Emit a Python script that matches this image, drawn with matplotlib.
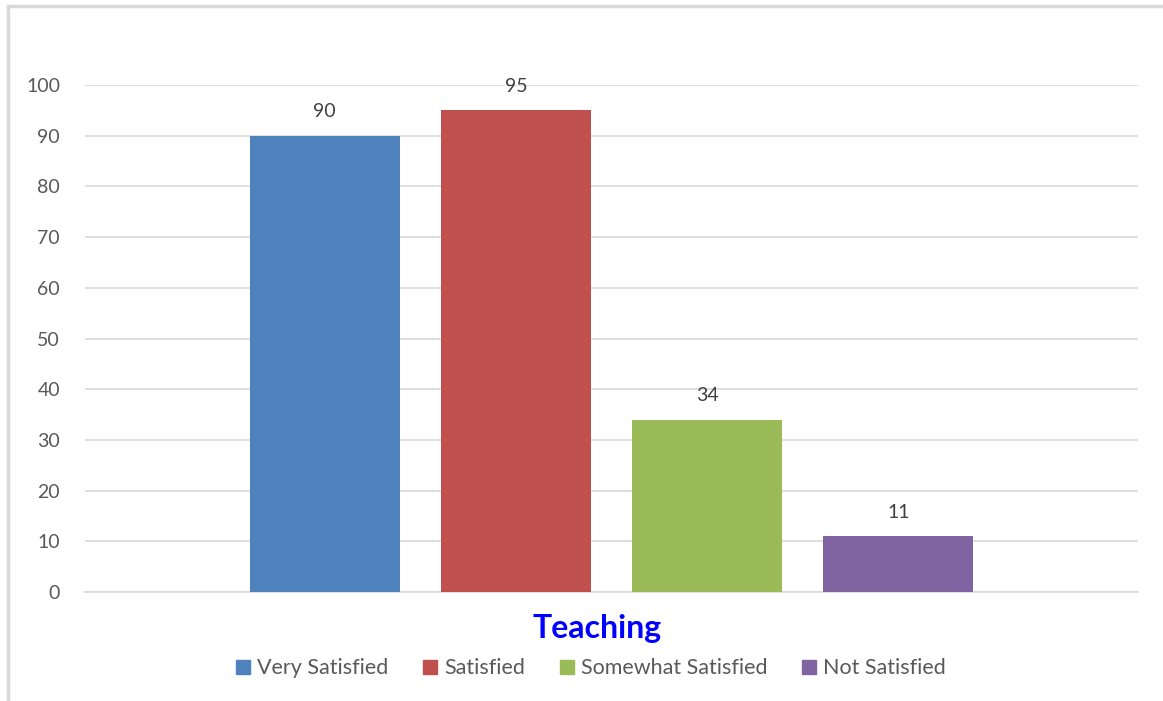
import matplotlib.pyplot as plt
from matplotlib.lines import Line2D

# data
series = ["Very Satisfied", "Satisfied", "Somewhat Satisfied", "Not Satisfied"]
values = [90, 95, 34, 11]
colors = ["#4F81BD", "#C0504D", "#9BBB59", "#8064A2"]
yticks = [0, 10, 20, 30, 40, 50, 60, 70, 80, 90, 100]

plt.rcParams['font.family'] = ['Lato', 'DejaVu Sans']

fig = plt.figure(figsize=(11.63, 7.01), dpi=100)
ax = fig.add_axes([0.0731, 0.1555, 0.9054, 0.7232])

bar_width = 0.784
for i, (name, v, c) in enumerate(zip(series, values, colors)):
    ax.bar(i, v, bar_width, color=c, label=name, zorder=3)
    ax.annotate(str(v), (i, v), xytext=(0, 11), textcoords="offset points",
                ha="center", va="bottom", fontsize=14, color="#404040")

ax.set_xlim(-1.252, 4.252)
ax.set_ylim(0, 100)
ax.set_yticks(yticks)
ax.set_xticks([])
ax.grid(axis="y", color="#D9D9D9", linewidth=1.2, zorder=0)
for s in ["top", "right", "left"]:
    ax.spines[s].set_visible(False)
ax.spines["bottom"].set_color("#D9D9D9")
ax.spines["bottom"].set_linewidth(1.2)
ax.tick_params(axis="y", length=0, pad=18, labelsize=14, labelcolor="#595959")

ax.set_xlabel("Teaching", fontsize=23, fontweight="bold", color="#0000FF", labelpad=16)
ax.xaxis.label.set_x(0.486)

handles = [Line2D([], [], marker="s", linestyle="none", markersize=10,
                  markerfacecolor=c, markeredgecolor=c) for c in colors]
leg = fig.legend(handles, series, loc="center", bbox_to_anchor=(0.507, 0.047), ncol=4,
                 frameon=False, fontsize=15.5, handletextpad=0.2, columnspacing=1.5,
                 handlelength=0.9)
for t in leg.get_texts():
    t.set_color("#595959")

# outer chart border (top and left visible)
fig.add_artist(Line2D([0.007, 1.0], [0.992, 0.992], color="#D9D9D9", linewidth=2.5,
                      transform=fig.transFigure))
fig.add_artist(Line2D([0.007, 0.007], [0.0, 0.992], color="#D9D9D9", linewidth=2.5,
                      transform=fig.transFigure))

fig.savefig("out.png", dpi=100)
